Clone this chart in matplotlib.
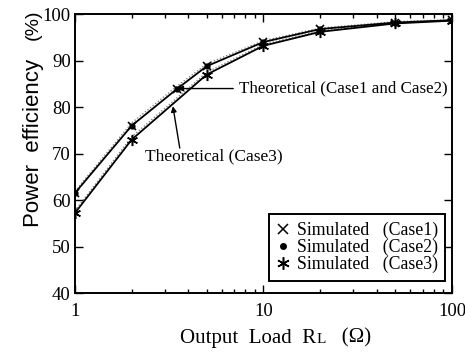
import matplotlib
matplotlib.use("Agg")
import matplotlib.pyplot as plt
from matplotlib.ticker import FixedLocator, NullFormatter

# Output load (ohm) and power efficiency (%)
load_12 = [1, 2, 3.5, 5, 10, 20, 50, 100]
eff_case1 = [61.5, 76.0, 84.0, 88.8, 94.0, 96.8, 98.2, 98.7]
eff_case2 = [61.5, 76.0, 84.0, 88.8, 94.0, 96.8, 98.2, 98.7]
theo_12 = [61.9, 76.6, 84.6, 89.3, 94.3, 97.0, 98.4, 98.8]

load_3 = [1, 2, 5, 10, 20, 50, 100]
eff_case3 = [57.2, 73.0, 87.0, 93.2, 96.2, 98.0, 98.6]
theo_3 = [57.7, 73.6, 87.5, 93.5, 96.4, 98.1, 98.7]

x_ticks = [1, 10, 100]
x_tick_labels = ["1", "10", "100"]
y_ticks = [40, 50, 60, 70, 80, 90, 100]

serif = "Liberation Serif"
sans = "Liberation Sans"

fig = plt.figure(figsize=(4.65, 3.54), dpi=100)
ax = fig.add_axes([0.161, 0.172, 0.811, 0.788])

# theoretical curves (thin dotted)
ax.plot(load_12, theo_12, ls=":", color="0.45", lw=0.9, zorder=2)
ax.plot(load_3, theo_3, ls=":", color="0.45", lw=0.9, zorder=2)

# simulated curves
ax.plot(load_12, eff_case1, color="black", lw=1.3, zorder=3)
ax.plot(load_3, eff_case3, color="black", lw=1.3, zorder=3)
ax.plot(load_12, eff_case1, ls="none", marker="x", ms=6, mew=1.2,
        color="black", zorder=4)
ax.plot(load_12, eff_case2, ls="none", marker="o", ms=3.5,
        color="black", zorder=4)
ax.plot(load_3, eff_case3, ls="none", marker=(6, 2, 0), ms=8, mew=1.1,
        color="black", zorder=4)

ax.set_xscale("log")
ax.set_xlim(1, 100)
ax.set_ylim(40, 100)
ax.xaxis.set_major_locator(FixedLocator(x_ticks))
ax.set_xticklabels(x_tick_labels)
ax.xaxis.set_minor_locator(FixedLocator([2, 3, 4, 5, 6, 7, 8, 9,
                                         20, 30, 40, 50, 60, 70, 80, 90]))
ax.xaxis.set_minor_formatter(NullFormatter())
ax.set_yticks(y_ticks)

ax.tick_params(which="both", direction="in", top=True, right=True,
               width=1.0, color="black")
ax.tick_params(which="major", length=6, labelsize=13.5)
ax.tick_params(which="minor", length=3)
ax.tick_params(axis="x", which="major", pad=7)
ax.tick_params(axis="y", which="major", pad=3)
for lab in ax.get_xticklabels() + ax.get_yticklabels():
    lab.set_fontfamily(serif)
for sp in ax.spines.values():
    sp.set_linewidth(1.4)

# y-axis title: quantity and unit placed apart
fig.text(0.071, 0.597, "Power  efficiency", rotation=90, fontfamily=sans,
         fontsize=16, ha="center", va="center")
fig.text(0.071, 0.929, "(%)", rotation=90, fontfamily=sans,
         fontsize=14, ha="center", va="center")

# x-axis title with small-cap "L" after R
fig.canvas.draw()
renderer = fig.canvas.get_renderer()
base_y = 0.032
t1 = fig.text(0.388, base_y, "Output  Load  R", fontfamily=serif,
              fontsize=15, ha="left", va="baseline")
bb = t1.get_window_extent(renderer).transformed(fig.transFigure.inverted())
t2 = fig.text(bb.x1, base_y, "L", fontfamily=serif, fontsize=11,
              ha="left", va="baseline")
bb2 = t2.get_window_extent(renderer).transformed(fig.transFigure.inverted())
fig.text(bb2.x1, base_y, "   (\u03a9)", fontfamily=serif, fontsize=15,
         ha="left", va="baseline")

# annotations for theoretical curves
ax.annotate("Theoretical (Case1 and Case2)", xy=(3.5, 84.0),
            xytext=(7.4, 84.0), fontfamily=serif, fontsize=12.2,
            va="center", ha="left",
            arrowprops=dict(arrowstyle="-|>", color="black", lw=1.0,
                            mutation_scale=8, shrinkA=2, shrinkB=0))
ax.annotate("", xy=(3.31, 80.2), xytext=(3.6, 71.2),
            arrowprops=dict(arrowstyle="-|>", color="black", lw=1.0,
                            mutation_scale=8, shrinkA=0, shrinkB=0))
ax.text(2.35, 69.3, "Theoretical (Case3)", fontfamily=serif,
        fontsize=12.5, va="center", ha="left")

# legend with markers only
h1, = ax.plot([], [], ls="none", marker="x", ms=7, mew=1.1, color="black")
h2, = ax.plot([], [], ls="none", marker="o", ms=4, color="black")
h3, = ax.plot([], [], ls="none", marker=(6, 2, 0), ms=9, mew=1.1,
              color="black")
leg = ax.legend([h1, h2, h3],
                ["Simulated   (Case1)", "Simulated   (Case2)",
                 "Simulated   (Case3)"],
                loc="lower right", bbox_to_anchor=(0.982, 0.045),
                prop={"family": serif, "size": 12.8}, fancybox=False,
                frameon=True, edgecolor="black", handlelength=0.8,
                handletextpad=0.4, labelspacing=0.0, borderpad=0.4,
                borderaxespad=0)
leg.get_frame().set_linewidth(1.4)
leg.get_frame().set_alpha(1)

fig.savefig("out.png", dpi=100)
